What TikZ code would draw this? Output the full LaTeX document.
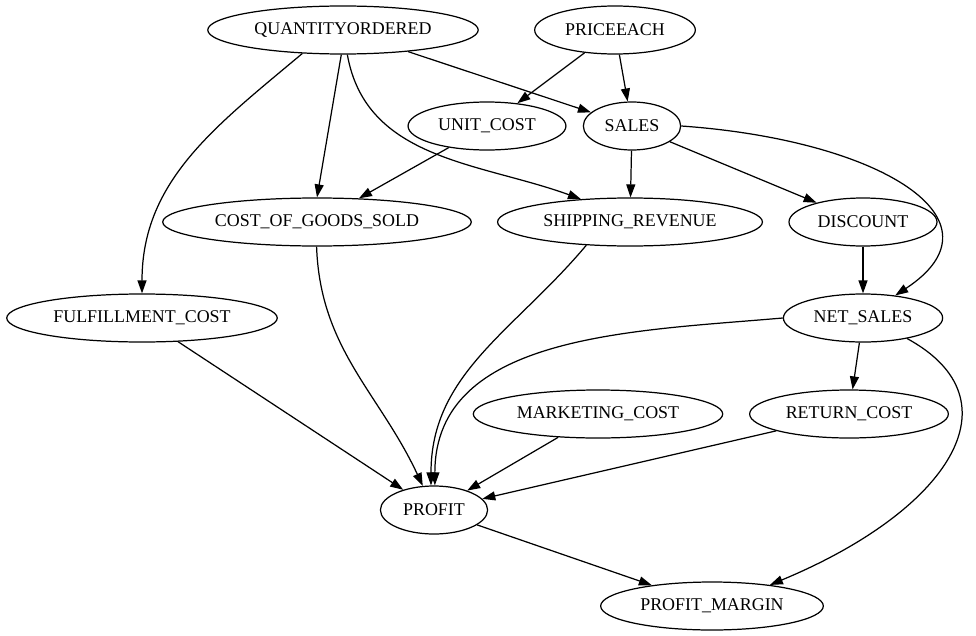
\documentclass[tikz,border=0pt]{standalone}
\usepackage{fontspec}
\setmainfont{Liberation Serif}
\usetikzlibrary{shapes.geometric,arrows.meta}

\tikzset{
	var/.style={draw, ellipse, line width=0.7pt, inner xsep=4pt, inner ysep=0pt,
	            minimum height=0.96cm, font=\fontsize{10.2}{12}\selectfont},
	dep/.style={-{Triangle[length=2.6mm,width=1.8mm]}, line width=0.7pt}
}

\begin{document}
\begin{tikzpicture}[x=0.02cm,y=-0.02cm]
		\useasboundingbox (0,0) rectangle (976,635);

		% variables
		\node[var] (qty) at (343,30) {QUANTITYORDERED};
		\node[var] (price) at (615,30) {PRICEEACH};
		\node[var] (unitcost) at (487,126) {UNIT\_COST};
		\node[var] (sales) at (632,126) {SALES};
		\node[var] (cogs) at (317,222) {COST\_OF\_GOODS\_SOLD};
		\node[var] (shiprev) at (630,222) {SHIPPING\_REVENUE};
		\node[var] (discount) at (863,222) {DISCOUNT};
		\node[var] (fulfill) at (142,318) {FULFILLMENT\_COST};
		\node[var] (netsales) at (863,318) {NET\_SALES};
		\node[var] (mkt) at (598,414) {MARKETING\_COST};
		\node[var] (retcost) at (849,414) {RETURN\_COST};
		\node[var] (profit) at (434,510) {PROFIT};
		\node[var] (margin) at (712,606) {PROFIT\_MARGIN};

		% dependencies
		\draw[dep] (qty) -- (sales);
		\draw[dep] (qty.-94) -- (cogs.north);
		\draw[dep] (qty) to[out=-80,in=160] (shiprev.155);
		\draw[dep] (qty.-150) to[out=-140,in=90] (fulfill);
		\draw[dep] (price) -- (unitcost);
		\draw[dep] (price) -- (sales);
		\draw[dep] (unitcost) -- (cogs);
		\draw[dep] (sales) -- (shiprev);
		\draw[dep] (sales) -- (discount);
		\draw[dep] (sales.east) .. controls (880,140) and (1010,220) .. (netsales.35);
		\draw[dep] (discount) -- (netsales);
		\draw[dep] (cogs.-91) to[out=-88,in=115] (profit.115);
		\draw[dep] (shiprev.-152) to[out=-130,in=90] (profit.97);
		\draw[dep] (fulfill) -- (profit);
		\draw[dep] (netsales.west) to[out=185,in=90] (profit.88);
		\draw[dep] (netsales) -- (retcost);
		\draw[dep] (netsales.-25) .. controls (1020,400) and (950,510) .. (margin.20);
		\draw[dep] (mkt) -- (profit);
		\draw[dep] (retcost) -- (profit);
		\draw[dep] (profit) -- (margin);
\end{tikzpicture}
\end{document}
